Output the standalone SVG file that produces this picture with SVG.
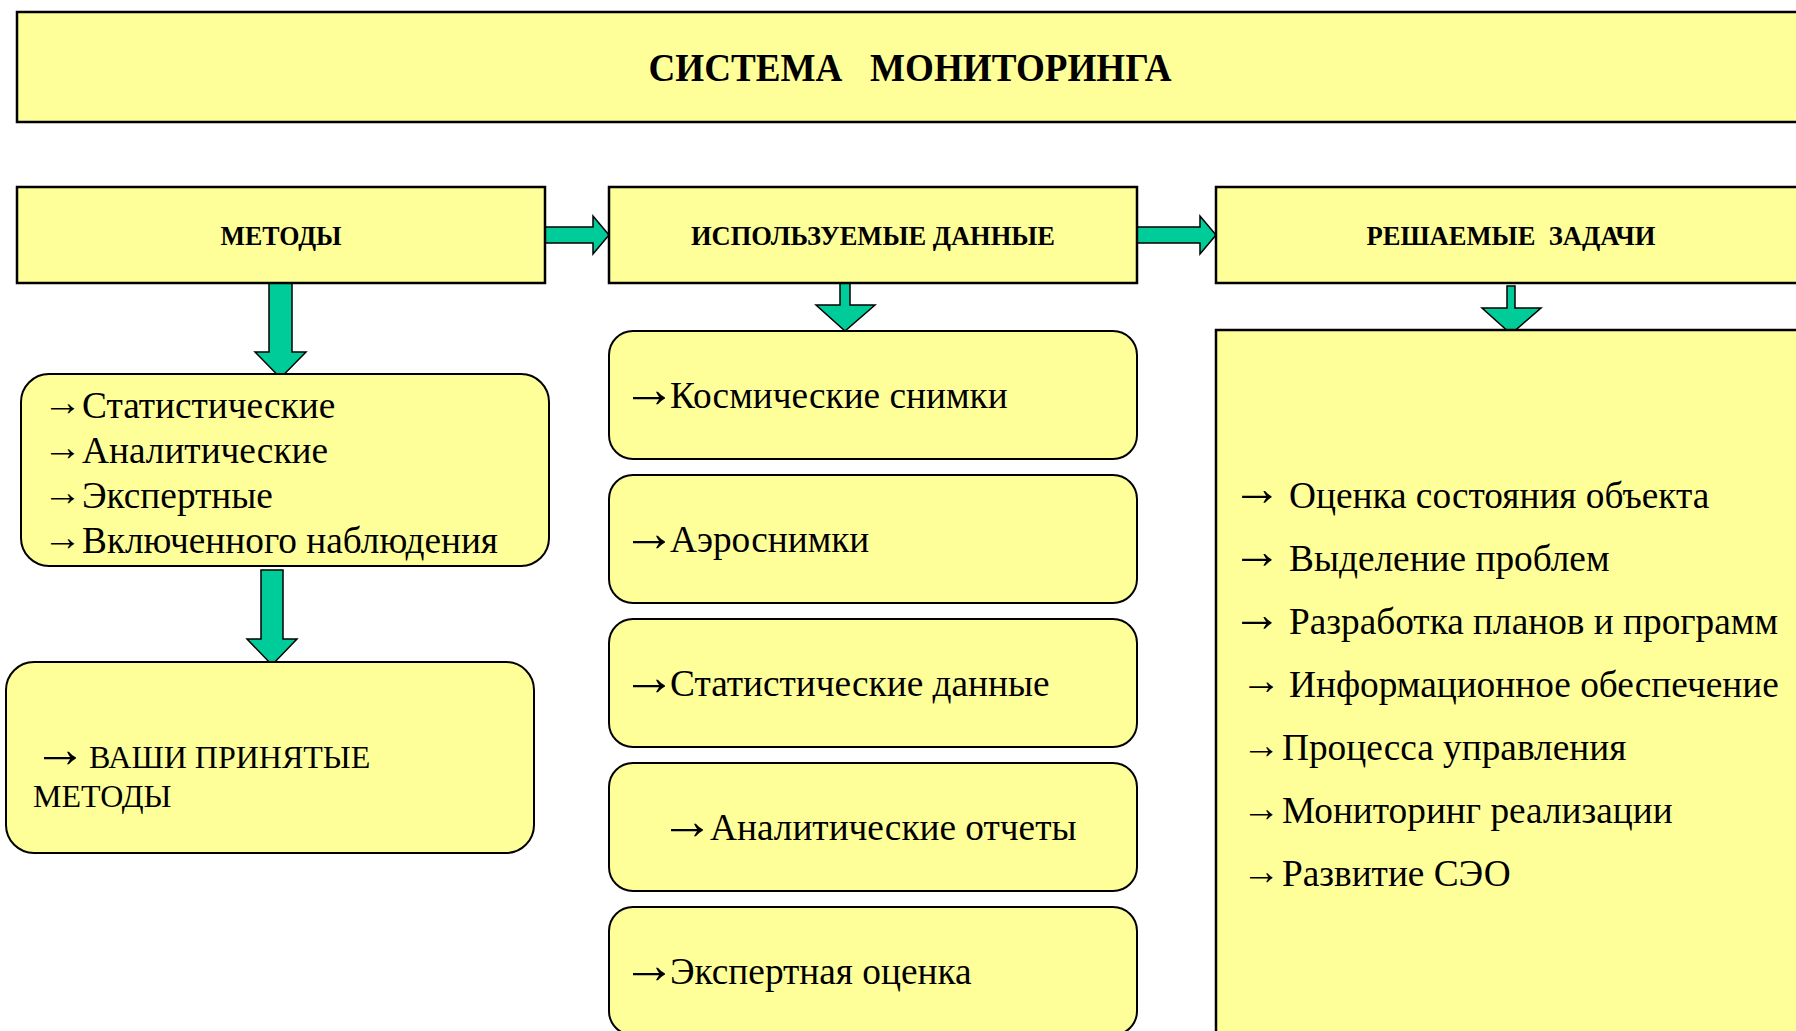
<svg xmlns="http://www.w3.org/2000/svg" width="1796" height="1031" viewBox="0 0 1796 1031">
<style>
.box{fill:#FFFF99;stroke:#000;stroke-width:2.5}
.rbox{fill:#FFFF99;stroke:#000;stroke-width:2}
.arr{fill:#00CC99;stroke:#000;stroke-width:1.5;stroke-linejoin:miter}
.hd{font-family:"Liberation Serif","Times New Roman",serif;font-weight:bold;fill:#000;white-space:pre}
.tx{font-family:"Liberation Serif","Times New Roman",serif;fill:#000;white-space:pre}
</style>
<rect width="1796" height="1031" fill="#fff"/>
<g id="title">
<rect class="box" x="17" y="12" width="1800" height="110"/>
<text class="hd" x="910" y="81" font-size="40" text-anchor="middle" textLength="523" lengthAdjust="spacingAndGlyphs">СИСТЕМА   МОНИТОРИНГА</text>
</g>
<g id="connectors">
<polygon class="arr" points="545,227 593,227 593,216 609,235 593,254 593,243 545,243"/>
<polygon class="arr" points="1137,227 1200,227 1200,216 1216,235 1200,254 1200,243 1137,243"/>
<polygon class="arr" points="269,283 292,283 292,352 306,352 280.5,378 255,352 269,352"/>
<polygon class="arr" points="261,570 283,570 283,639 297,639 272,665 247,639 261,639"/>
<polygon class="arr" points="840,283 850,283 850,305 875,305 845,331 816,305 840,305"/>
<polygon class="arr" points="1507,286 1515,286 1515,308 1541,308 1511,334 1482,308 1507,308"/>
</g>
<g id="methods">
<rect class="box" x="17" y="187" width="528" height="96"/>
<text class="hd" x="281" y="245" font-size="27" text-anchor="middle" textLength="121" lengthAdjust="spacingAndGlyphs">МЕТОДЫ</text>
</g>
<g id="data">
<rect class="box" x="609" y="187" width="528" height="96"/>
<text class="hd" x="873" y="245" font-size="27" text-anchor="middle" textLength="364" lengthAdjust="spacingAndGlyphs">ИСПОЛЬЗУЕМЫЕ ДАННЫЕ</text>
</g>
<g id="tasks">
<rect class="box" x="1216" y="187" width="600" height="96"/>
<text class="hd" x="1511" y="245" font-size="27" text-anchor="middle" textLength="289" lengthAdjust="spacingAndGlyphs">РЕШАЕМЫЕ  ЗАДАЧИ</text>
</g>
<g id="method-list">
<rect class="rbox" x="21" y="374" width="528" height="192" rx="28"/>
<text class="tx" font-size="37.3"><tspan x="43" y="415" font-size="39">→</tspan><tspan x="82" y="418">Статистические</tspan></text>
<text class="tx" font-size="37.3"><tspan x="43" y="460" font-size="39">→</tspan><tspan x="82" y="463">Аналитические</tspan></text>
<text class="tx" font-size="37.3"><tspan x="43" y="505" font-size="39">→</tspan><tspan x="82" y="508">Экспертные</tspan></text>
<text class="tx" font-size="37.3"><tspan x="43" y="550" font-size="39">→</tspan><tspan x="82" y="553">Включенного наблюдения</tspan></text>
</g>
<g id="your-methods">
<rect class="rbox" x="6" y="662" width="528" height="191" rx="28"/>
<text class="tx" font-size="32"><tspan x="33" y="767" font-size="54">→</tspan><tspan x="89" y="768">ВАШИ ПРИНЯТЫЕ</tspan><tspan x="33" y="807">МЕТОДЫ</tspan></text>
</g>
<g id="d1">
<rect class="rbox" x="609" y="331" width="528" height="128" rx="24"/>
<text class="tx" font-size="37.3"><tspan x="622" y="407" font-size="54">→</tspan><tspan x="670" y="408">Космические снимки</tspan></text>
</g>
<g id="d2">
<rect class="rbox" x="609" y="475" width="528" height="128" rx="24"/>
<text class="tx" font-size="37.3"><tspan x="622" y="551" font-size="54">→</tspan><tspan x="670" y="552">Аэроснимки</tspan></text>
</g>
<g id="d3">
<rect class="rbox" x="609" y="619" width="528" height="128" rx="24"/>
<text class="tx" font-size="37.3"><tspan x="622" y="695" font-size="54">→</tspan><tspan x="670" y="696">Статистические данные</tspan></text>
</g>
<g id="d4">
<rect class="rbox" x="609" y="763" width="528" height="128" rx="24"/>
<text class="tx" font-size="37.3"><tspan x="660" y="839" font-size="54">→</tspan><tspan x="710" y="840">Аналитические отчеты</tspan></text>
</g>
<g id="d5">
<rect class="rbox" x="609" y="907" width="528" height="128" rx="24"/>
<text class="tx" font-size="37.3"><tspan x="622" y="983" font-size="54">→</tspan><tspan x="670" y="984">Экспертная оценка</tspan></text>
</g>
<g id="task-list">
<rect class="box" x="1216" y="330" width="600" height="720"/>
<text class="tx" font-size="37.3"><tspan x="1232" y="505" font-size="50">→</tspan><tspan x="1289" y="508">Оценка состояния объекта</tspan></text>
<text class="tx" font-size="37.3"><tspan x="1232" y="568" font-size="50">→</tspan><tspan x="1289" y="571">Выделение проблем</tspan></text>
<text class="tx" font-size="37.3"><tspan x="1232" y="631" font-size="50">→</tspan><tspan x="1289" y="634">Разработка планов и программ</tspan></text>
<text class="tx" font-size="37.3"><tspan x="1241" y="694" font-size="40">→</tspan><tspan x="1289" y="697">Информационное обеспечение</tspan></text>
<text class="tx" font-size="37.3"><tspan x="1242" y="758" font-size="38">→</tspan><tspan x="1282" y="760">Процесса управления</tspan></text>
<text class="tx" font-size="37.3"><tspan x="1242" y="821" font-size="38">→</tspan><tspan x="1282" y="823">Мониторинг реализации</tspan></text>
<text class="tx" font-size="37.3"><tspan x="1242" y="884" font-size="38">→</tspan><tspan x="1282" y="886">Развитие СЭО</tspan></text>
</g>
</svg>
